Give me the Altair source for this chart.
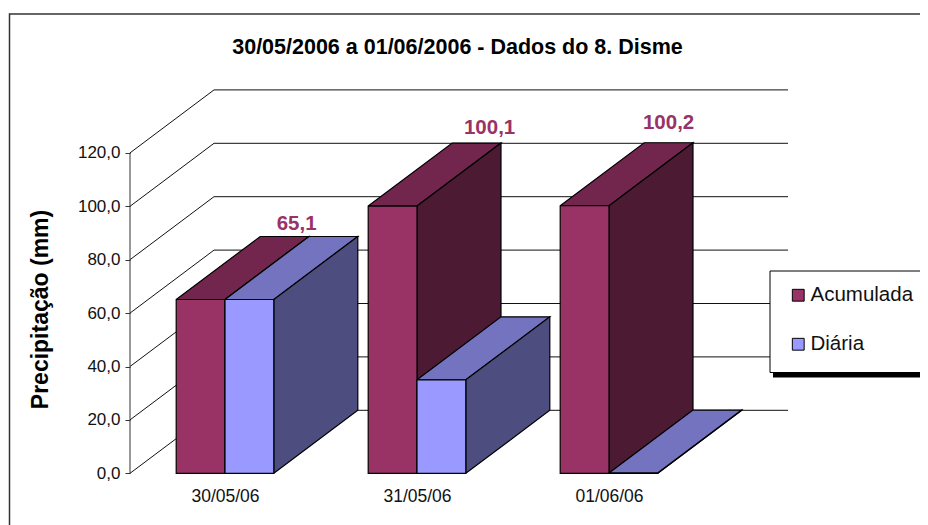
import altair as alt
import pandas as pd

# --- values ---
CATEGORIES = ["30/05/06", "31/05/06", "01/06/06"]
ACUMULADA = [65.1, 100.1, 100.2]
DIARIA = [65.1, 35.0, 0.1]
ACUMULADA_LABELS = ["65,1", "100,1", "100,2"]
Y_TICKS = [0, 20, 40, 60, 80, 100, 120]
SERIES = ["Acumulada", "Diária"]

# --- layout / geometry ---
W, H = 912, 517
PX_SLOT = 192.0       # pixels per category
PX_UNIT = 2.67        # pixels per mm
X0 = 217.0            # pixel of category 0
Y0 = 465.3            # pixel of value 0
BAR_W = 48.8 / PX_SLOT
DX = 84.0 / PX_SLOT   # depth, in category units
DY = 63.0 / PX_UNIT   # depth, in mm
WALL = (122.0 - X0) / PX_SLOT
RIGHT = (780.0 - X0) / PX_SLOT
FONT = "Liberation Sans"

COL = {
    "Acumulada": dict(front="#993366", top="#73264d", side="#4d1a33"),
    "Diária": dict(front="#9999ff", top="#7373bf", side="#4d4d80"),
}

xs = alt.Scale(domain=[-X0 / PX_SLOT, (W - X0) / PX_SLOT], range=[0, W], nice=False, zero=False)
ys = alt.Scale(domain=[-(H - Y0) / PX_UNIT, Y0 / PX_UNIT], range=[H, 0], nice=False, zero=False)

axis_y = alt.Axis(
    values=Y_TICKS, offset=-122, domain=False, grid=False, tickColor="#333333", tickSize=5,
    labelExpr="replace(format(datum.value,'.1f'),'.',',')", labelFont=FONT, labelFontSize=17,
    labelColor="#111111", labelPadding=5, labelFlush=False, labelOverlap=False,
    title="Precipitação (mm)", titleFont=FONT, titleFontSize=23, titleFontWeight="bold",
    titleColor="black", titleX=-78, titleY=301,
)
cat_expr = "[" + ",".join(f"'{c}'" for c in CATEGORIES) + "][datum.value]"
axis_x = alt.Axis(
    values=[0, 1, 2], offset=-51.7, domain=False, grid=False, ticks=False,
    labelExpr=cat_expr, labelFont=FONT, labelFontSize=17.5, labelColor="#111111", labelPadding=14,
    title=None,
)
X = alt.X("x:Q", scale=xs, axis=axis_x)
Y = alt.Y("y:Q", scale=ys, axis=axis_y)

layers = []

# outer frame
one = pd.DataFrame({"a": [0]})
layers.append(
    alt.Chart(one).mark_rect(fill="transparent", stroke="#333333", strokeWidth=1.5).encode(
        x=alt.value(1.5), x2=alt.value(1200), y=alt.value(6), y2=alt.value(1200)
    )
)

# walls: gridlines run from the front plane to the back wall, then along it
grid = []
for t in Y_TICKS:
    grid += [
        dict(level=t, o=0, x=WALL, y=t),
        dict(level=t, o=1, x=WALL + DX, y=t + DY),
        dict(level=t, o=2, x=RIGHT, y=t + DY),
    ]
layers.append(
    alt.Chart(pd.DataFrame(grid)).mark_line(color="#111111", strokeWidth=1).encode(
        x=X, y=Y, detail="level:N", order="o:Q"
    )
)

# y rule of the front plane
front_rule = pd.DataFrame({"x": [WALL], "y": [Y_TICKS[0]], "y2": [Y_TICKS[-1]]})
layers.append(
    alt.Chart(front_rule).mark_rule(color="#333333", strokeWidth=1).encode(x=X, y=Y, y2="y2:Q")
)

# faces
fronts = []
for i, _ in enumerate(CATEGORIES):
    for s, (name, vals) in enumerate(zip(SERIES, (ACUMULADA, DIARIA))):
        v = vals[i]
        x1 = i + (s - 1) * BAR_W
        x2 = x1 + BAR_W
        faces = {
            "top": [(x1, v), (x2, v), (x2 + DX, v + DY), (x1 + DX, v + DY), (x1, v)],
            "side": [(x2, 0), (x2, v), (x2 + DX, v + DY), (x2 + DX, DY), (x2, 0)],
        }
        for face, pts in faces.items():
            df = pd.DataFrame(pts, columns=["x", "y"]).assign(o=range(len(pts)))
            layers.append(
                alt.Chart(df)
                .mark_line(fill=COL[name][face], stroke="black", strokeWidth=1.2, strokeJoin="miter")
                .encode(x=X, y=Y, order="o:Q")
            )
        fronts.append(dict(x=x1, x2=x2, y=0, y2=v, serie=name))

# front faces, carrying the legend
layers.append(
    alt.Chart(pd.DataFrame(fronts))
    .mark_rect(stroke="black", strokeWidth=1.2)
    .encode(
        x=X,
        x2="x2:Q",
        y=Y,
        y2="y2:Q",
        color=alt.Color(
            "serie:N",
            scale=alt.Scale(domain=SERIES, range=[COL[n]["front"] for n in SERIES]),
            legend=alt.Legend(
                title=None,
                orient="none",
                legendX=780,
                legendY=277,
                symbolType="square",
                symbolSize=140,
                symbolStrokeColor="black",
                symbolStrokeWidth=1,
                symbolOpacity=1,
                labelFont=FONT,
                labelFontSize=20.5,
                labelColor="#111111",
                labelOffset=2,
                rowPadding=28,
                padding=0,
            ),
        ),
    )
)

# data labels above each group
LABEL_NUDGE = [(12, -75), (13, -78), (0, -83)]
for i, lab in enumerate(ACUMULADA_LABELS):
    df = pd.DataFrame({"x": [i - BAR_W / 2 + DX], "y": [ACUMULADA[i]], "t": [lab]})
    layers.append(
        alt.Chart(df)
        .mark_text(
            font=FONT, fontSize=20.5, fontWeight="bold", color="#993366", baseline="middle",
            dx=LABEL_NUDGE[i][0], dy=LABEL_NUDGE[i][1],
        )
        .encode(x=X, y=Y, text="t:N")
    )

# legend box and its shadow
layers.append(
    alt.Chart(one).mark_rect(fill="black").encode(
        x=alt.value(765), x2=alt.value(1200), y=alt.value(268), y2=alt.value(369.5)
    )
)
layers.append(
    alt.Chart(one).mark_rect(fill="white", stroke="black", strokeWidth=1).encode(
        x=alt.value(762), x2=alt.value(1200), y=alt.value(263), y2=alt.value(364.5)
    )
)

chart = (
    alt.layer(*layers)
    .properties(
        width=W,
        height=H,
        padding=0,
        autosize=alt.AutoSizeParams(type="none"),
        background="white",
        title=alt.TitleParams(
            "30/05/2006 a 01/06/2006 - Dados do 8. Disme",
            font=FONT, fontSize=21.5, fontWeight="bold", color="black",
            anchor="middle", frame="group", offset=-50, dx=-6.5,
        ),
    )
    .configure_view(stroke=None)
)
chart.save("out.html", embed_options={"renderer": "svg", "actions": False})
